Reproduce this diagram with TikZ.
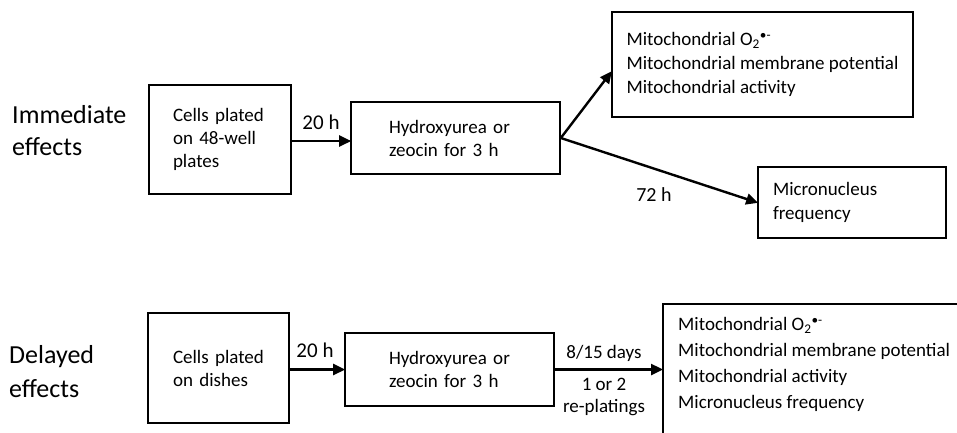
\documentclass[tikz,border=0pt]{standalone}
\usepackage{fontspec}
\setmainfont{Carlito}
\usetikzlibrary{arrows.meta,positioning,calc}
\newcommand{\superox}{O\textsubscript{2}\textsuperscript{\textbullet-}}
\tikzset{
  box/.style={draw, line width=1.6pt, rectangle, align=left, inner ysep=0pt, font=\fontsize{19}{23}\selectfont},
  arr/.style={line width=2.4pt, -{Triangle[length=12pt,width=11pt]}, shorten >=-1pt},
  lbl/.style={font=\fontsize{19}{23}\selectfont, inner sep=0pt},
  side/.style={align=left, inner sep=0pt, anchor=base west}
}
\begin{document}
\begin{tikzpicture}[x=1pt,y=-1pt]
\clip (0,0) rectangle (957,432);
\fill[white] (0,0) rectangle (957,432);
% top row
\node[box, minimum width=142pt, minimum height=109pt, inner xsep=24pt, text width=94pt] (a1) at (220,139.5) {Cells plated\\on 48-well\\plates};
\node[box, minimum width=209pt, minimum height=72pt, inner xsep=38pt, text width=133pt] (b1) at (455.5,138) {Hydroxyurea or\\zeocin for 3 h};
\node[box, minimum width=301pt, minimum height=105pt, inner xsep=13pt, font=\fontsize{19}{24}\selectfont] (c1) at (762.5,64.5) {Mitochondrial \superox\\Mitochondrial membrane potential\\Mitochondrial activity};
\node[box, minimum width=188pt, minimum height=71pt, inner xsep=15pt, text width=158pt, font=\fontsize{19}{24}\selectfont] (d1) at (852,202.5) {Micronucleus\\frequency};
% bottom row
\node[box, minimum width=141pt, minimum height=110pt, inner xsep=25pt, text width=91pt] (a2) at (218.5,368) {Cells plated\\on dishes};
\node[box, minimum width=209pt, minimum height=73pt, inner xsep=44pt, text width=121pt] (b2) at (449.5,369.5) {Hydroxyurea or\\zeocin for 3 h};
\node[box, anchor=north west, minimum width=320pt, minimum height=150pt] (c2) at (662,303) {};
\node[lbl, anchor=north west, align=left, font=\fontsize{19}{26}\selectfont] (c2t) at (678,317) {Mitochondrial \superox\\Mitochondrial membrane potential\\Mitochondrial activity\\Micronucleus frequency};
% side labels
\node[side, font=\fontsize{26}{32}\selectfont] (imm) at (12,155) {Immediate\\effects};
\node[side, font=\fontsize{26}{34}\selectfont] (del) at (9,397) {Delayed\\effects};
% arrows
\draw[arr] (a1.east |- 0,141) -- (b1.west |- 0,141);
\draw[arr] (b1.east) -- ([yshift=-7.5pt]c1.west);
\draw[arr] (b1.east) -- (d1.west);
\draw[arr] (a2.east |- b2.west) -- (b2.west);
\draw[arr] (b2.east) -- (b2.east -| c2.west);
% arrow labels
\node[lbl, font=\fontsize{21}{25}\selectfont] (l20a) at (321,122) {20 h};
\node[lbl, font=\fontsize{20}{24}\selectfont] (l72) at (654,195) {72 h};
\node[lbl, font=\fontsize{21}{25}\selectfont] (l20b) at (315,350) {20 h};
\node[lbl] (l815) at (604,353) {8/15 days};
\node[lbl, align=center, font=\fontsize{19}{22}\selectfont] (lrep) at (604,397) {1 or 2\\re-platings};
\end{tikzpicture}
\end{document}
